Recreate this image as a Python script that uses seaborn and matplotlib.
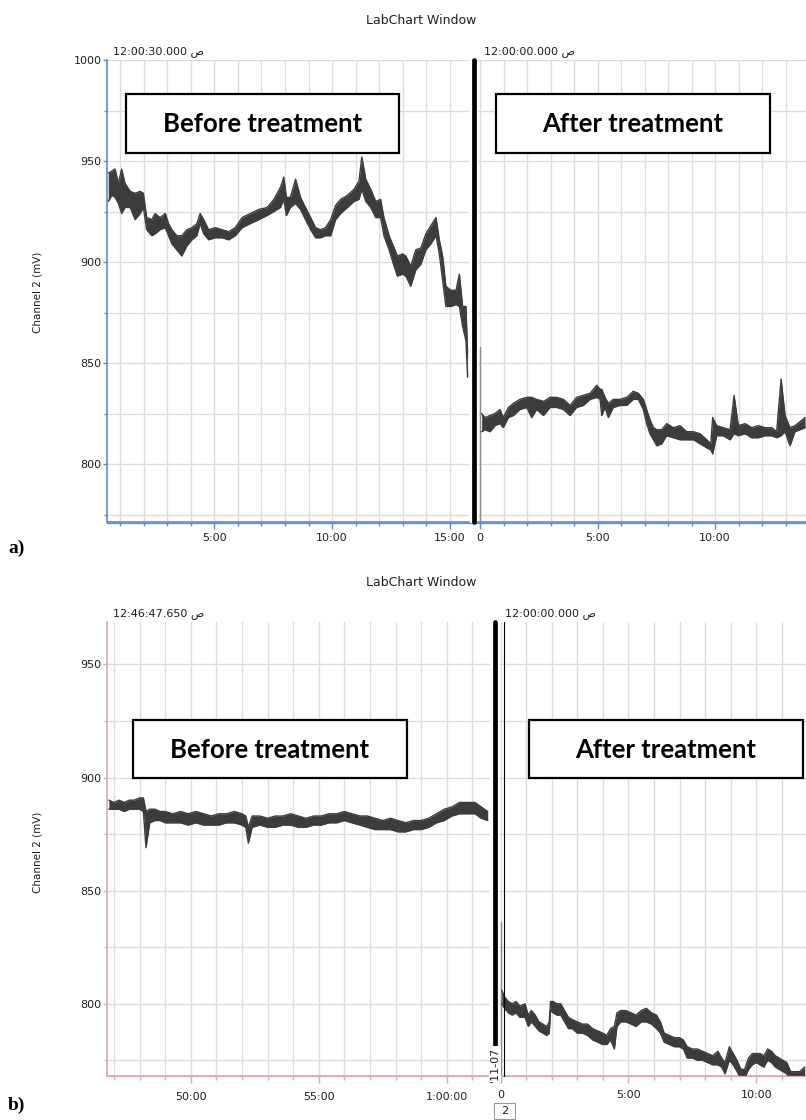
import numpy as np
import pandas as pd
import matplotlib
matplotlib.use("Agg")
import matplotlib.pyplot as plt
import seaborn as sns
from matplotlib.lines import Line2D
from matplotlib.patches import Rectangle

# ---------------- recorded traces (minutes, mV; upper / lower edge of the noisy band) ----------------
a_before_t = [0.50, 0.65, 0.79, 0.93, 1.07, 1.21, 1.43, 1.64, 1.85, 1.99, 2.13, 2.35, 2.49, 2.70, 2.92,
              3.06, 3.20, 3.41, 3.62, 3.84, 4.05, 4.26, 4.40, 4.55, 4.76, 5.04, 5.33, 5.61, 5.89, 6.18,
              6.53, 6.89, 7.24, 7.53, 7.81, 7.95, 8.06, 8.23, 8.45, 8.66, 8.87, 9.09, 9.30, 9.51, 9.72,
              9.94, 10.15, 10.36, 10.65, 10.93, 11.14, 11.26, 11.43, 11.64, 11.85, 12.06, 12.20, 12.42,
              12.63, 12.77, 12.99, 13.13, 13.34, 13.55, 13.77, 13.98, 14.19, 14.41, 14.55, 14.69, 14.83,
              15.04, 15.26, 15.40, 15.54, 15.68, 15.75]
a_before_hi = [944, 945, 946, 939, 946, 939, 935, 934, 935, 934, 922, 921, 924, 922, 924,
               919, 916, 913, 913, 916, 917, 919, 924, 921, 916, 917, 916, 915, 917, 922,
               924, 926, 927, 931, 937, 942, 932, 932, 941, 932, 927, 922, 917, 916, 917,
               921, 928, 931, 933, 936, 940, 952, 941, 936, 930, 931, 922, 913,
               907, 903, 904, 903, 898, 906, 907, 914, 918, 922, 911, 903, 888,
               886, 886, 894, 878, 878, 855]
a_before_lo = [930, 933, 932, 929, 924, 927, 927, 921, 924, 927, 916, 913, 914, 916, 917,
               913, 909, 906, 903, 908, 911, 913, 919, 914, 911, 912, 912, 911, 913, 917,
               919, 921, 923, 925, 927, 931, 923, 927, 929, 926, 921, 916, 912, 912, 913,
               913, 921, 924, 927, 930, 931, 936, 930, 927, 922, 922, 913, 906,
               898, 893, 894, 893, 888, 896, 899, 906, 909, 913, 904, 891, 878,
               878, 879, 878, 868, 861, 843]

a_after_t = [0.07, 0.21, 0.43, 0.64, 0.85, 0.99, 1.21, 1.42, 1.70, 1.99, 2.20, 2.41, 2.70, 2.98, 3.26,
             3.55, 3.83, 4.11, 4.40, 4.68, 4.97, 5.11, 5.18, 5.32, 5.46, 5.67, 5.96, 6.24, 6.52, 6.74,
             6.95, 7.09, 7.23, 7.38, 7.52, 7.73, 7.94, 8.23, 8.51, 8.79, 9.08, 9.36, 9.65, 9.82, 9.90,
             10.07, 10.35, 10.64, 10.81, 10.99, 11.28, 11.56, 11.84, 12.13, 12.41, 12.62, 12.81, 12.98,
             13.19, 13.40, 13.62, 13.83]
a_after_hi = [825, 823, 824, 825, 827, 823, 828, 830, 832, 833, 833, 832, 831, 833, 833,
              832, 829, 833, 834, 835, 839, 837, 837, 833, 830, 832, 832, 833, 836, 835,
              832, 827, 822, 818, 817, 817, 820, 818, 819, 816, 816, 815, 812, 810, 823,
              819, 818, 817, 834, 819, 820, 818, 819, 818, 818, 816, 842, 824,
              818, 819, 821, 823]
a_after_lo = [816, 817, 816, 819, 820, 818, 823, 824, 827, 828, 823, 827, 824, 828, 828,
              827, 824, 828, 829, 832, 833, 832, 824, 828, 823, 828, 829, 829, 832, 832,
              827, 820, 815, 812, 809, 810, 814, 813, 812, 812, 812, 810, 808, 807, 805,
              814, 814, 812, 815, 814, 815, 813, 813, 814, 814, 813, 814, 816,
              809, 816, 817, 818]

b_before_t = [46.80, 47.00, 47.20, 47.40, 47.60, 47.80, 48.00, 48.15, 48.25, 48.40, 48.60, 48.80, 49.00,
              49.30, 49.60, 49.90, 50.20, 50.50, 50.80, 51.10, 51.40, 51.70, 52.00, 52.15, 52.25, 52.40,
              52.70, 53.00, 53.30, 53.60, 53.90, 54.20, 54.50, 54.80, 55.10, 55.40, 55.70, 56.00, 56.30,
              56.60, 56.90, 57.20, 57.50, 57.80, 58.10, 58.40, 58.70, 59.00, 59.30, 59.60, 59.90, 60.20,
              60.50, 60.80, 61.10, 61.35, 61.60]
b_before_hi = [890, 889, 890, 889, 890, 890, 891, 891, 885, 886, 886, 885, 885,
               884, 885, 884, 885, 884, 883, 884, 884, 885, 884, 883, 878, 883,
               883, 882, 883, 883, 884, 883, 882, 883, 883, 884, 884, 885, 884,
               883, 883, 882, 881, 882, 881, 880, 881, 881, 882, 884, 886, 887,
               889, 889, 889, 887, 885]
b_before_lo = [886, 886, 886, 885, 886, 886, 886, 885, 869, 880, 881, 881, 880,
               880, 880, 879, 880, 879, 879, 879, 880, 880, 879, 878, 871, 878,
               879, 878, 878, 879, 879, 878, 878, 879, 879, 880, 880, 881, 880,
               879, 878, 877, 877, 877, 876, 876, 877, 877, 878, 880, 881, 883,
               884, 884, 884, 882, 881]

b_after_t = [0.04, 0.15, 0.30, 0.45, 0.60, 0.75, 0.95, 1.08, 1.20, 1.35, 1.50, 1.65, 1.80, 1.90, 1.95,
             2.05, 2.20, 2.35, 2.50, 2.65, 2.80, 3.00, 3.20, 3.40, 3.60, 3.80, 4.00, 4.15, 4.30, 4.45,
             4.55, 4.70, 4.90, 5.10, 5.30, 5.50, 5.70, 5.90, 6.10, 6.25, 6.40, 6.60, 6.80, 7.00, 7.15,
             7.30, 7.50, 7.70, 7.90, 8.10, 8.30, 8.50, 8.65, 8.78, 8.95, 9.10, 9.25, 9.40, 9.55, 9.70,
             9.85, 10.00, 10.15, 10.30, 10.45, 10.60, 10.75, 10.90, 11.05, 11.20, 11.35, 11.50, 11.70,
             11.90]
b_after_hi = [806, 803, 801, 800, 801, 799, 800, 795, 797, 795, 792, 791, 790, 792, 801,
              801, 800, 800, 797, 794, 793, 792, 791, 791, 789, 788, 787, 786, 789, 790,
              796, 797, 797, 796, 795, 797, 798, 796, 795, 792, 787, 786, 785, 785, 784,
              781, 780, 780, 779, 778, 777, 779, 776, 774, 781, 778, 775, 771, 771, 776,
              778, 778, 778, 777, 780, 779, 777, 776, 775, 774, 770, 770, 770,
              772]
b_after_lo = [800, 798, 796, 795, 796, 794, 794, 790, 792, 790, 788, 787, 786, 787, 797,
              796, 795, 795, 792, 789, 789, 787, 787, 786, 784, 783, 782, 782, 784, 780,
              790, 792, 792, 791, 790, 792, 792, 791, 789, 787, 783, 782, 781, 781, 780,
              776, 776, 775, 775, 774, 773, 773, 772, 769, 775, 773, 770, 767, 767, 771,
              773, 774, 773, 772, 775, 774, 772, 771, 770, 769, 766, 766, 766,
              767]

# Single-sample artefacts at the start of the second block
a_spike_t = [0.0, 0.0]
a_spike_v = [760, 858]
b_spike_t = [0.0, 0.0]
b_spike_v = [760, 836]

# Axis text
a_yticks = [800, 850, 900, 950, 1000]
b_yticks = [800, 850, 900, 950]
a_left_ticks = [5, 10, 15]
a_left_labels = ["5:00", "10:00", "15:00"]
right_ticks = [0, 5, 10]
right_labels = ["0", "5:00", "10:00"]
b_left_ticks = [50, 55, 60]
b_left_labels = ["50:00", "55:00", "1:00:00"]

# ---------------- figure ----------------
sns.set_theme(style="white")
plt.rcParams['font.family'] = ['DejaVu Sans']

W, H = 806, 1120
fig = plt.figure(figsize=(W / 100, H / 100), dpi=100)
TRACE = "#3c3c3c"
GRID = "#dcdcdc"
TXT = "#1e1e1e"


def fx(x):
    return x / W


def fy(y):
    return 1 - y / H


def px_axes(x0, y0, x1, y1):
    return fig.add_axes([x0 / W, 1 - y1 / H, (x1 - x0) / W, (y1 - y0) / H])


def draw_band(ax, t, hi, lo):
    """Noisy recording drawn as its filled envelope with jagged edge lines."""
    df = pd.DataFrame({"t": t, "hi": hi, "lo": lo})
    ax.fill_between(df["t"], df["lo"], df["hi"], color=TRACE, linewidth=0, zorder=3)
    for col in ("hi", "lo"):
        sns.lineplot(data=df, x="t", y=col, ax=ax, color=TRACE, linewidth=1.0,
                     sort=False, estimator=None, zorder=3)


def style_axes(ax, xlim, ylim, yminor, spine_col, major_x, labels_x, show_y, xpad=3):
    ax.set_xlim(*xlim)
    ax.set_ylim(*ylim)
    ax.set_xticks(major_x)
    ax.set_xticklabels(labels_x)
    lo_m = int(np.ceil(xlim[0]))
    hi_m = int(np.floor(xlim[1]))
    ax.set_xticks([m for m in range(lo_m, hi_m + 1) if m not in major_x], minor=True)
    ax.set_yticks(yminor, minor=True)
    ax.grid(True, which="both", color=GRID, linewidth=1.0)
    ax.set_axisbelow(True)
    for s in ["top", "right", "left"]:
        ax.spines[s].set_visible(False)
    ax.spines["bottom"].set_color(spine_col)
    ax.spines["bottom"].set_linewidth(1.2)
    ax.tick_params(axis="x", which="major", direction="out", length=5, width=1, color=spine_col,
                   labelsize=8, labelcolor=TXT, pad=xpad, bottom=True)
    ax.tick_params(axis="x", which="minor", direction="out", length=3, width=1, color=spine_col, bottom=True)
    ax.set_xlabel("")
    ax.set_ylabel("")
    if show_y:
        ax.spines["left"].set_visible(True)
        ax.spines["left"].set_color(spine_col)
        ax.spines["left"].set_linewidth(1.2)
        ax.tick_params(axis="y", which="major", direction="out", length=3, width=1, color=spine_col,
                       labelsize=8, labelcolor=TXT, pad=1, left=True)
        ax.tick_params(axis="y", which="minor", direction="out", length=2, width=1, color=spine_col, left=True)
    else:
        ax.tick_params(axis="y", which="both", left=False, labelleft=False)


def draw_box(x0, y0, x1, y1, text):
    fig.patches.append(Rectangle((fx(x0), fy(y1)), (x1 - x0) / W, (y1 - y0) / H, transform=fig.transFigure,
                                 facecolor="white", edgecolor="black", linewidth=1.6, zorder=5))
    fig.text(fx((x0 + x1) / 2), fy((y0 + y1) / 2 + 1), text, ha="center", va="center",
             fontsize=18.5, fontweight="bold", family=["Lato", "DejaVu Sans"], color="black", zorder=6)


# ---------------- panel a ----------------
A_TOP, A_BOT = 60, 522
A_BLUE = "#5b8bd5"
a_ylim = (771.3, 1000)
a_minor = [775, 825, 875, 925, 975]

axL = px_axes(107, A_TOP, 469, A_BOT)
draw_band(axL, a_before_t, a_before_hi, a_before_lo)
style_axes(axL, (0.447, 15.81), a_ylim, a_minor, A_BLUE, a_left_ticks, a_left_labels, True)
axL.set_yticks(a_yticks)
axL.set_yticklabels([str(v) for v in a_yticks])

axR = px_axes(478, A_TOP, 806, A_BOT)
sns.lineplot(x=a_spike_t, y=a_spike_v, ax=axR, color="#8a8a8a", linewidth=1.0, sort=False, estimator=None)
draw_band(axR, a_after_t, a_after_hi, a_after_lo)
style_axes(axR, (-0.085, 13.87), a_ylim, a_minor, A_BLUE, right_ticks, right_labels, False)
axR.set_yticks(a_yticks)

# continuous bottom axis line across the block break and the block divider
fig.add_artist(Line2D([fx(107), fx(806)], [fy(A_BOT + 0.5), fy(A_BOT + 0.5)], color=A_BLUE, lw=0.9))
fig.add_artist(Line2D([fx(473.5), fx(473.5)], [fy(A_TOP), fy(A_BOT)], color="black", lw=3.4, zorder=4))

fig.text(fx(421), fy(21), "LabChart Window", ha="center", va="center", fontsize=9, color=TXT)
fig.text(fx(113), fy(52), "12:00:30.000 ص", ha="left", va="center", fontsize=8, color=TXT)
fig.text(fx(484), fy(52), "12:00:00.000 ص", ha="left", va="center", fontsize=8, color=TXT)
fig.text(fx(37), fy(292), "Channel 2 (mV)", ha="center", va="center", rotation=90, fontsize=7.5, color=TXT)
fig.text(fx(8), fy(548), "a)", ha="left", va="center", fontsize=14, fontweight="bold",
         family=["Liberation Serif", "DejaVu Serif"], color="black")
draw_box(126, 94, 399, 153, "Before treatment")
draw_box(496, 94, 770, 153, "After treatment")

# ---------------- panel b ----------------
B_TOP, B_BOT = 621.7, 1075.7
B_PINK = "#d6aab6"
b_ylim = (768.2, 968.9)
b_minor = [775, 825, 875, 925]

bxL = px_axes(107.3, B_TOP, 490, B_BOT)
draw_band(bxL, b_before_t, b_before_hi, b_before_lo)
style_axes(bxL, (46.74, 61.69), b_ylim, b_minor, B_PINK, b_left_ticks, b_left_labels, True, xpad=7)
bxL.set_yticks(b_yticks)
bxL.set_yticklabels([str(v) for v in b_yticks])

bxR = px_axes(499, B_TOP, 806, B_BOT)
sns.lineplot(x=b_spike_t, y=b_spike_v, ax=bxR, color="#8a8a8a", linewidth=1.0, sort=False, estimator=None)
draw_band(bxR, b_after_t, b_after_hi, b_after_lo)
style_axes(bxR, (-0.067, 11.95), b_ylim, b_minor, B_PINK, right_ticks, right_labels, False, xpad=5)
bxR.set_yticks(b_yticks)

fig.add_artist(Line2D([fx(107.3), fx(806)], [fy(B_BOT + 0.5), fy(B_BOT + 0.5)], color=B_PINK, lw=0.9))
fig.add_artist(Line2D([fx(495.3), fx(495.3)], [fy(B_TOP), fy(1050)], color="black", lw=3.4, zorder=4))
fig.add_artist(Line2D([fx(503.8), fx(503.8)], [fy(B_TOP), fy(B_BOT)], color="black", lw=0.8, zorder=4))
fig.text(fx(495), fy(1064), "'11-07", ha="center", va="center", rotation=90, fontsize=8, color=TXT,
         bbox=dict(boxstyle="square,pad=0.05", facecolor="white", edgecolor="none"), zorder=6)
fig.patches.append(Rectangle((fx(494), fy(1119)), 21 / W, 16 / H, transform=fig.transFigure,
                             facecolor="white", edgecolor="#9a9a9a", linewidth=0.8, zorder=5))
fig.text(fx(504.5), fy(1111), "2", ha="center", va="center", fontsize=8, color=TXT, zorder=6)

fig.text(fx(421.5), fy(583), "LabChart Window", ha="center", va="center", fontsize=9, color=TXT)
fig.text(fx(113), fy(614), "12:46:47.650 ص", ha="left", va="center", fontsize=8, color=TXT)
fig.text(fx(505), fy(614), "12:00:00.000 ص", ha="left", va="center", fontsize=8, color=TXT)
fig.text(fx(37), fy(852), "Channel 2 (mV)", ha="center", va="center", rotation=90, fontsize=7.5, color=TXT)
fig.text(fx(8), fy(1105), "b)", ha="left", va="center", fontsize=14, fontweight="bold",
         family=["Liberation Serif", "DejaVu Serif"], color="black")
draw_box(133, 720, 407, 778, "Before treatment")
draw_box(529, 720, 803, 778, "After treatment")

fig.savefig("out.png", dpi=100, facecolor="white")
